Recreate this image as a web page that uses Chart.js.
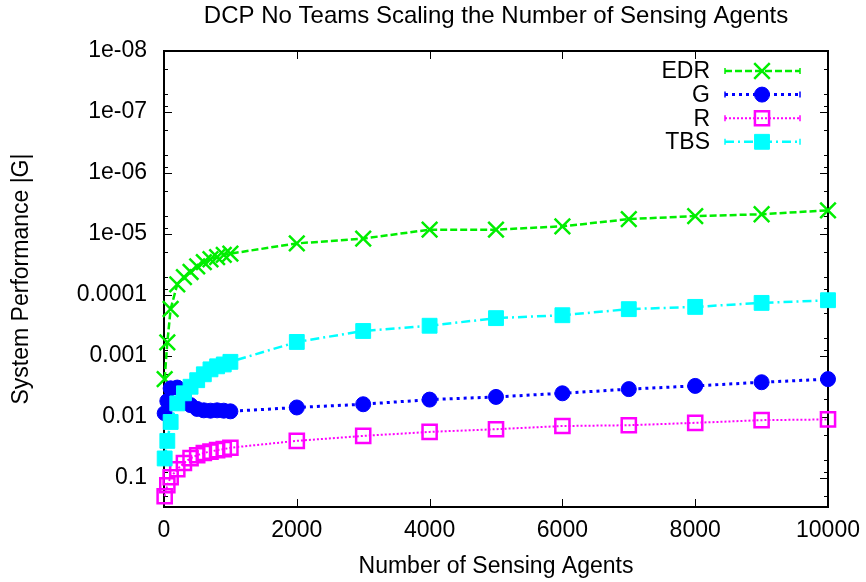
<!DOCTYPE html>
<html>
<head>
<meta charset="utf-8">
<script src="https://cdn.jsdelivr.net/npm/chart.js@4.4.1/dist/chart.umd.min.js"></script>
<style>
html,body{margin:0;padding:0;background:#fff;}
canvas{display:block;}
</style>
</head>
<body>
<canvas id="c" width="866" height="582"></canvas>
<script>
// ---- data ----
const agents = [10, 50, 100, 200, 300, 400, 500, 600, 700, 800, 900, 1000, 2000, 3000, 4000, 5000, 6000, 7000, 8000, 9000, 10000];
const edr = [2.4e-3, 6.0e-4, 1.7e-4, 6.7e-5, 5.1e-5, 4.2e-5, 3.4e-5, 2.9e-5, 2.6e-5, 2.4e-5, 2.2e-5, 2.1e-5, 1.43e-5, 1.19e-5, 8.5e-6, 8.5e-6, 7.5e-6, 5.7e-6, 5.1e-6, 4.75e-6, 4.1e-6];
const g = [0.0087, 0.0055, 0.0034, 0.0033, 0.0047, 0.0064, 0.0074, 0.0078, 0.0079, 0.0078, 0.0079, 0.0081, 0.0070, 0.0062, 0.0052, 0.0047, 0.0041, 0.0035, 0.0031, 0.0027, 0.0024];
const r = [0.2, 0.132, 0.0975, 0.072, 0.057, 0.0475, 0.0425, 0.039, 0.037, 0.035, 0.0338, 0.032, 0.0247, 0.0205, 0.0176, 0.0159, 0.0141, 0.0137, 0.0125, 0.0113, 0.0110];
const tbs = [0.048, 0.0247, 0.0121, 0.006, 0.0041, 0.0032, 0.0025, 0.002, 0.00166, 0.00148, 0.00138, 0.00125, 5.9e-4, 3.9e-4, 3.2e-4, 2.4e-4, 2.15e-4, 1.71e-4, 1.57e-4, 1.35e-4, 1.22e-4];
const seriesNames = ['EDR', 'G', 'R', 'TBS'];
const xTickValues = [0, 2000, 4000, 6000, 8000, 10000];
const xTickLabels = ['0', '2000', '4000', '6000', '8000', '10000'];
const yTickValues = [1e-8, 1e-7, 1e-6, 1e-5, 1e-4, 1e-3, 1e-2, 1e-1];
const yTickLabels = ['1e-08', '1e-07', '1e-06', '1e-05', '0.0001', '0.001', '0.01', '0.1'];
const yMinorMultipliers = [2, 5, 8];
const chartTitle = 'DCP No Teams Scaling the Number of Sensing Agents';
const xTitle = 'Number of Sensing Agents';
const yTitle = 'System Performance |G|';

const FAMILY = '"Liberation Sans", Arial, Helvetica, sans-serif';
const FS = 23;
Chart.defaults.font.family = FAMILY;
Chart.defaults.font.size = FS;
Chart.defaults.color = '#000';

const pts = arr => agents.map((x, i) => ({x: x, y: arr[i]}));

const framePlugin = {
  id: 'gpFrame',
  beforeDatasetsDraw(chart) {
    const {ctx, chartArea: a, scales} = chart;
    const xs = scales.x, ys = scales.y;
    ctx.save();
    ctx.strokeStyle = '#000';
    ctx.lineWidth = 1;
    ctx.beginPath();
    yTickValues.forEach(v => {
      const p = Math.round(ys.getPixelForValue(v)) + 0.5;
      ctx.moveTo(a.left, p); ctx.lineTo(a.left + 8, p);
      ctx.moveTo(a.right, p); ctx.lineTo(a.right - 8, p);
      yMinorMultipliers.forEach(m => {
        const mv = v * m;
        if (mv <= ys.max) {
          const q = Math.round(ys.getPixelForValue(mv)) + 0.5;
          ctx.moveTo(a.left, q); ctx.lineTo(a.left + 4, q);
          ctx.moveTo(a.right, q); ctx.lineTo(a.right - 4, q);
        }
      });
    });
    xTickValues.forEach(v => {
      const p = Math.round(xs.getPixelForValue(v)) + 0.5;
      ctx.moveTo(p, a.bottom); ctx.lineTo(p, a.bottom - 8);
      ctx.moveTo(p, a.top); ctx.lineTo(p, a.top + 8);
    });
    ctx.stroke();
    ctx.lineWidth = 2;
    ctx.strokeRect(a.left, a.top, a.right - a.left, a.bottom - a.top);
    ctx.restore();
  }
};

const legendPlugin = {
  id: 'gpLegend',
  afterDraw(chart) {
    const {ctx, chartArea: a} = chart;
    ctx.save();
    chart.data.datasets.forEach((ds, i) => {
      const yy = a.top + 20 + i * 23.6;
      const x0 = a.right - 103, x1 = a.right - 28, xm = a.right - 66;
      ctx.font = FS + 'px ' + FAMILY;
      ctx.fillStyle = '#000';
      ctx.textAlign = 'right';
      ctx.textBaseline = 'middle';
      ctx.fillText(ds.label, a.right - 118, yy + 1);
      ctx.strokeStyle = ds.borderColor;
      ctx.lineWidth = ds.borderWidth;
      ctx.setLineDash(ds.borderDash);
      ctx.beginPath(); ctx.moveTo(x0, yy); ctx.lineTo(x1, yy); ctx.stroke();
      ctx.setLineDash([]);
      ctx.lineWidth = 1.5;
      ctx.beginPath();
      ctx.moveTo(x0, yy - 3); ctx.lineTo(x0, yy + 3);
      ctx.moveTo(x1, yy - 3); ctx.lineTo(x1, yy + 3);
      ctx.stroke();
      ctx.fillStyle = ds.pointBackgroundColor;
      ctx.strokeStyle = ds.borderColor;
      ctx.lineWidth = ds.pointBorderWidth;
      Chart.helpers.drawPoint(ctx, {pointStyle: ds.pointStyle, radius: ds.pointRadius, borderWidth: ds.pointBorderWidth, rotation: 0}, xm, yy);
    });
    ctx.restore();
  }
};

new Chart(document.getElementById('c'), {
  type: 'scatter',
  data: {
    datasets: [
      {label: seriesNames[0], data: pts(edr), showLine: true, borderColor: '#00ee00', backgroundColor: '#00ee00', pointBackgroundColor: '#00ee00',
       borderWidth: 2.5, borderDash: [7, 3], pointStyle: 'crossRot', pointRadius: 11, pointBorderWidth: 2.5, order: 3, clip: false},
      {label: seriesNames[1], data: pts(g), showLine: true, borderColor: '#0000ff', backgroundColor: '#0000ff', pointBackgroundColor: '#0000ff',
       borderWidth: 3, borderDash: [3, 4], pointStyle: 'circle', pointRadius: 7.5, pointBorderWidth: 1, order: 2, clip: false},
      {label: seriesNames[2], data: pts(r), showLine: true, borderColor: '#ff00ff', backgroundColor: 'rgba(0,0,0,0)', pointBackgroundColor: 'rgba(0,0,0,0)',
       borderWidth: 2, borderDash: [2, 2], pointStyle: 'rect', pointRadius: 10, pointBorderWidth: 2.5, order: 1, clip: false},
      {label: seriesNames[3], data: pts(tbs), showLine: true, borderColor: '#00ffff', backgroundColor: '#00ffff', pointBackgroundColor: '#00ffff',
       borderWidth: 2.5, borderDash: [9, 4, 2, 4], pointStyle: 'rect', pointRadius: 10.5, pointBorderWidth: 1, order: 0, clip: false}
    ]
  },
  options: {
    responsive: false,
    animation: false,
    devicePixelRatio: 1,
    layout: {padding: {left: 0, right: 38, top: 0, bottom: 0}},
    plugins: {
      legend: {display: false},
      tooltip: {enabled: false},
      title: {display: true, text: chartTitle, fullSize: false, color: '#000',
              font: {size: 24, weight: 'normal', family: FAMILY}, padding: {top: 2, bottom: 20.2}}
    },
    scales: {
      x: {
        type: 'linear', min: 0, max: 10000,
        afterBuildTicks: s => { s.ticks = xTickValues.map(v => ({value: v})); },
        afterFit: s => { s.height = 75; },
        ticks: {callback: v => xTickLabels[xTickValues.indexOf(v)], padding: 6, maxRotation: 0, autoSkip: false, color: '#000',
                font: {size: FS, lineHeight: 1.55}},
        grid: {display: false, drawTicks: false},
        border: {display: false},
        title: {display: true, text: xTitle, color: '#000', padding: {top: 0, bottom: 2}}
      },
      y: {
        type: 'logarithmic', min: 1e-8, max: 0.3, reverse: true,
        afterBuildTicks: s => { s.ticks = yTickValues.map(v => ({value: v})); },
        afterFit: s => { s.width = 164; },
        ticks: {
          callback: v => {
            const k = yTickValues.findIndex(t => Math.abs(Math.log10(t) - Math.log10(v)) < 1e-6);
            return k >= 0 ? yTickLabels[k] : '';
          },
          padding: 17, autoSkip: false, color: '#000'
        },
        grid: {display: false, drawTicks: false},
        border: {display: false},
        title: {display: true, text: yTitle, color: '#000', padding: {top: 8, bottom: 0}}
      }
    }
  },
  plugins: [framePlugin, legendPlugin]
});
</script>
</body>
</html>
